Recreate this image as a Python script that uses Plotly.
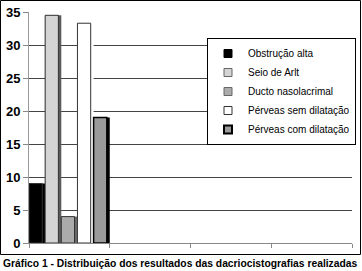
import plotly.graph_objects as go

series_names = ["Obstrução alta", "Seio de Arlt", "Ducto nasolacrimal",
                "Pérveas sem dilatação", "Pérveas com dilatação"]
series_values = [9, 34.5, 4, 33.3, 19]
face_colors = ["#000000", "#d4d4d4", "#ababab", "#ffffff", "#9a9a9a"]
shadow_colors = ["#000000", "#5a5a5a", "#6a6a6a", "#ffffff", "#000000"]
legend_lines = ["#000000", "#666666", "#666666", "#333333", "#000000"]
y_ticks = [0, 5, 10, 15, 20, 25, 30, 35]
grid_ticks = [5, 10, 15, 20, 25, 30]
caption = "Gráfico 1 - Distribuição dos resultados das dacriocistografias realizadas"

W, H = 362, 271
L, R, T, B = 29, 10, 12, 28
pw, ph = W - L - R, H - T - B
FONT = "Liberation Sans, Arial, sans-serif"

fig = go.Figure()
# dummy trace to activate yaxis2 gridlines
fig.add_trace(go.Scatter(x=[None], y=[None], yaxis="y2", showlegend=False,
                         hoverinfo="skip"))
bw = 0.2
for i, (name, v) in enumerate(zip(series_names, series_values)):
    fig.add_trace(go.Bar(x=[0], y=[v], width=bw, offset=bw * i,
                         marker=dict(color=shadow_colors[i], line=dict(width=0)),
                         showlegend=False, hoverinfo="skip"))
    fig.add_trace(go.Bar(x=[0], y=[v], width=bw * 0.82, offset=bw * i,
                         name=name, showlegend=False,
                         marker=dict(color=face_colors[i],
                                     line=dict(color="#000000" if i == 4 else "#333333",
                                               width=1.5 if i == 4 else 1))))
for i, name in enumerate(series_names):
    fig.add_trace(go.Scatter(x=[None], y=[None], mode="markers", name=name,
                             marker=dict(symbol="square", size=8, color=face_colors[i],
                                         line=dict(color=legend_lines[i],
                                                   width=2 if i == 4 else 1))))

fig.update_layout(
    width=W, height=H,
    margin=dict(l=L, r=R, t=T, b=B, autoexpand=False),
    paper_bgcolor="white", plot_bgcolor="white",
    barmode="overlay",
    font=dict(family=FONT, color="#000"),
    xaxis=dict(range=[0, 4], tickvals=[0, 1, 2, 3, 4], showticklabels=False,
               ticks="outside", ticklen=4, tickcolor="#888", showgrid=False,
               showline=True, linecolor="#888", linewidth=1, zeroline=False),
    yaxis=dict(range=[0, 35], tickvals=y_ticks, ticks="outside", ticklen=5,
               tickcolor="#888", showline=True, linecolor="#999", linewidth=1,
               showgrid=False, zeroline=False, automargin=False,
               tickfont=dict(size=13, family=FONT, weight="bold")),
    yaxis2=dict(range=[0, 35], tickvals=grid_ticks, overlaying="y",
                showticklabels=False, ticks="", showgrid=True, layer="below traces",
                gridcolor="#444", gridwidth=1, zeroline=False, showline=False),
    legend=dict(x=(207 - L) / pw, y=(243 - 38) / ph, xanchor="left", yanchor="top",
                bgcolor="white", bordercolor="#000", borderwidth=1,
                font=dict(size=10, family=FONT),
                tracegroupgap=0, itemwidth=30),
    shapes=[dict(type="rect", xref="paper", yref="paper",
                 x0=-(L - 0.5) / pw, x1=(360.5 - L) / pw,
                 y0=(243 - 254.5) / ph, y1=(243 - 0.5) / ph,
                 line=dict(color="#000", width=1), layer="below")],
    annotations=[dict(text="<b>" + caption + "</b>", xref="paper", yref="paper",
                      x=-(L - 0.5) / pw, y=(243 - 263.5) / ph, xanchor="left",
                      yanchor="middle", showarrow=False,
                      font=dict(size=10.3, family=FONT))],
)
fig.write_html("out.html")
